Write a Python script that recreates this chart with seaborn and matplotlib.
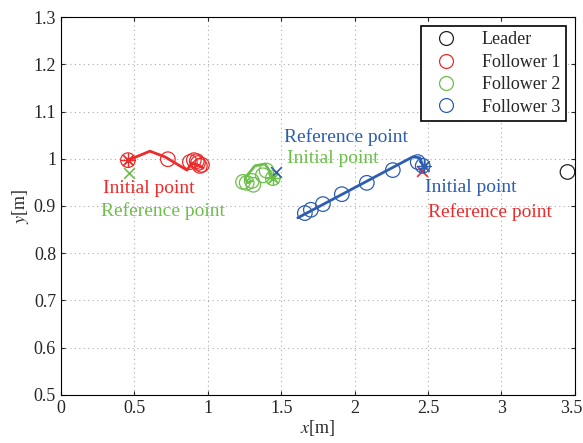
import matplotlib
matplotlib.use("Agg")
import matplotlib.pyplot as plt
import matplotlib.transforms as mtransforms
from matplotlib.lines import Line2D
import seaborn as sns

# Leader position
leader_x = [3.45]
leader_y = [0.972]

# Follower 1 (red)
f1_path_x = [0.456, 0.606, 0.708, 0.858, 0.892, 0.946, 0.967]
f1_path_y = [0.997, 1.016, 1.004, 0.976, 0.991, 0.985, 0.980]
f1_circ_x = [0.456, 0.728, 0.878, 0.905, 0.933, 0.946, 0.960, 0.925]
f1_circ_y = [0.997, 0.999, 0.993, 0.997, 0.991, 0.985, 0.987, 0.995]
f1_init = (0.456, 0.997)
f1_ref = (2.458, 0.974)

# Follower 2 (green)
f2_path_x = [1.443, 1.420, 1.389, 1.321, 1.253, 1.273, 1.300]
f2_path_y = [0.959, 0.975, 0.989, 0.985, 0.959, 0.949, 0.953]
f2_circ_x = [1.443, 1.400, 1.375, 1.300, 1.265, 1.240, 1.310]
f2_circ_y = [0.959, 0.975, 0.965, 0.953, 0.949, 0.951, 0.945]
f2_init = (1.443, 0.959)
f2_ref = (0.463, 0.970)

# Follower 3 (blue)
f3_path_x = [1.613, 2.396, 2.444, 2.471]
f3_path_y = [0.875, 1.004, 1.002, 0.980]
f3_circ_x = [1.661, 1.702, 1.784, 1.913, 2.083, 2.260, 2.430, 2.464]
f3_circ_y = [0.885, 0.892, 0.904, 0.925, 0.949, 0.976, 0.993, 0.985]
f3_init = (2.471, 0.985)
f3_ref = (1.464, 0.972)

names = ["Leader", "Follower 1", "Follower 2", "Follower 3"]
colors = ["#222222", "#ee2b2b", "#6cc04a", "#2d5db0"]

x_ticks = [0, 0.5, 1, 1.5, 2, 2.5, 3, 3.5]
y_ticks = [0.5, 0.6, 0.7, 0.8, 0.9, 1.0, 1.1, 1.2, 1.3]
y_tick_labels = ["0.5", "0.6", "0.7", "0.8", "0.9", "1", "1.1", "1.2", "1.3"]

sns.set_style("ticks")
plt.rcParams["font.family"] = ["Liberation Serif", "DejaVu Serif"]
plt.rcParams["mathtext.fontset"] = "stix"

fig = plt.figure(figsize=(5.83, 4.43), dpi=100)
ax = fig.add_axes([0.1046, 0.1084, 0.8814, 0.8532])

ms = 110  # circle marker area
asterisk = (8, 2, 0)

followers = [
    (f1_path_x, f1_path_y, f1_circ_x, f1_circ_y, f1_init, f1_ref, colors[1]),
    (f2_path_x, f2_path_y, f2_circ_x, f2_circ_y, f2_init, f2_ref, colors[2]),
    (f3_path_x, f3_path_y, f3_circ_x, f3_circ_y, f3_init, f3_ref, colors[3]),
]

for px, py, cx, cy, init, ref, c in followers:
    sns.lineplot(x=px, y=py, sort=False, estimator=None, color=c, lw=2.0, ax=ax)
    sns.scatterplot(x=cx, y=cy, marker="o", s=ms, facecolors="none",
                    edgecolors=c, linewidth=0.9, ax=ax)
    sns.scatterplot(x=[init[0]], y=[init[1]], marker=asterisk, s=90,
                    color=c, edgecolors=c, linewidth=0.9, ax=ax)
    sns.scatterplot(x=[ref[0]], y=[ref[1]], marker="x", s=60, color=c,
                    linewidth=1.2, ax=ax)

sns.scatterplot(x=leader_x, y=leader_y, marker="o", s=ms, facecolors="none",
                edgecolors=colors[0], linewidth=0.9, ax=ax)

# Point annotations
fs = 14
ax.text(0.286, 0.938, "Initial point", color=colors[1], fontsize=fs, va="center")
ax.text(0.270, 0.889, "Reference point", color=colors[2], fontsize=fs, va="center")
ax.text(1.520, 1.046, "Reference point", color=colors[3], fontsize=fs, va="center")
ax.text(1.540, 1.000, "Initial point", color=colors[2], fontsize=fs, va="center")
ax.text(2.480, 0.940, "Initial point", color=colors[3], fontsize=fs, va="center")
ax.text(2.500, 0.887, "Reference point", color=colors[1], fontsize=fs, va="center")

ax.set_xlim(0, 3.5)
ax.set_ylim(0.5, 1.3)
ax.set_xticks(x_ticks)
ax.set_xticklabels([f"{t:g}" for t in x_ticks])
ax.set_yticks(y_ticks)
ax.set_yticklabels(y_tick_labels)
ax.tick_params(direction="in", top=True, right=True, labelsize=13, length=3)
ax.grid(True, linestyle=(0, (1, 3)), color="#aaaaaa", linewidth=0.8)
for sp in ax.spines.values():
    sp.set_visible(True)
    sp.set_color("black")
    sp.set_linewidth(0.8)

# keep the last x tick label inside the figure edge
last = ax.get_xticklabels()[-1]
last.set_transform(last.get_transform() +
                   mtransforms.ScaledTranslation(-4 / 100, 0, fig.dpi_scale_trans))

ax.set_xlabel("$x$[m]", fontsize=13, labelpad=1)
ax.set_ylabel("$y$[m]", fontsize=13, labelpad=2)

handles = [Line2D([], [], marker="o", linestyle="none", markerfacecolor="none",
                  markeredgecolor=c, markersize=10, markeredgewidth=0.9)
           for c in colors]
leg = ax.legend(handles, names, loc="upper right", fontsize=13, frameon=True,
                fancybox=False, edgecolor="black", framealpha=1,
                borderaxespad=0.5, handletextpad=0.9, labelspacing=0.3,
                borderpad=0.3, handlelength=2.2)
leg.get_frame().set_linewidth(1.2)

fig.savefig("out.png", dpi=100)
